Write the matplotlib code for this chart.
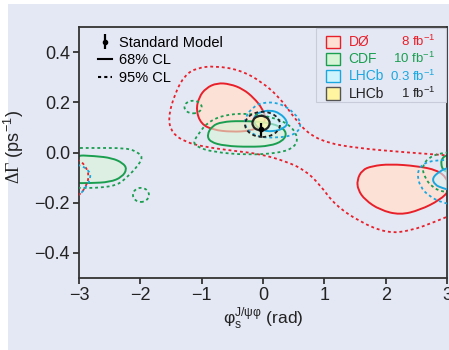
import matplotlib
matplotlib.use("Agg")
import matplotlib.pyplot as plt
from matplotlib.path import Path
from matplotlib.patches import PathPatch, Ellipse, Rectangle
from matplotlib.lines import Line2D

plt.rcParams['font.family'] = ['Liberation Sans', 'DejaVu Sans']
plt.rcParams['mathtext.fontset'] = 'custom'
plt.rcParams['mathtext.rm'] = 'Liberation Serif'
plt.rcParams['mathtext.sf'] = 'Liberation Sans'

# colours
RED, GREEN, BLUE, BLACK = '#e8202a', '#1a9e50', '#1aa7e0', '#222222'
BG = '#e4e8f4'

# ---- contour outlines (phi_s, dGamma) ----
# D0 8 fb-1, 68% CL (two islands)
d0_68a_phi = [-1.092, -1.043, -0.929, -0.750, -0.538, -0.326, -0.147, -0.016, 0.049, -0.016, -0.212, -0.505, -0.815, -1.011]
d0_68a_dg = [0.169, 0.221, 0.257, 0.277, 0.273, 0.253, 0.217, 0.177, 0.137, 0.106, 0.086, 0.082, 0.090, 0.114]
d0_68b_phi = [1.533, 1.614, 1.777, 2.071, 2.511, 2.837, 3.000, 3.049, 2.886, 2.560, 2.234, 1.908, 1.663, 1.549]
d0_68b_dg = [-0.110, -0.070, -0.054, -0.046, -0.054, -0.070, -0.102, -0.149, -0.189, -0.229, -0.249, -0.229, -0.189, -0.149]
# D0 95% CL (open at phi = +3, wraps to -3)
d0_95_phi = [3.147, 2.234, 1.533, 1.044, 0.718, 0.489, 0.277, -0.016, -0.375, -0.783, -1.076, -1.272, -1.435,
             -1.549, -1.484, -1.272, -0.946, -0.456, -0.049, 0.359, 0.685, 0.929, 1.174, 1.582, 2.022, 2.397, 2.837, 3.147]
d0_95_dg = [-0.014, 0.002, 0.018, 0.038, 0.078, 0.145, 0.217, 0.281, 0.329, 0.345, 0.337, 0.309, 0.237,
            0.137, 0.078, 0.042, 0.022, 0.006, -0.006, -0.034, -0.070, -0.129, -0.209, -0.277, -0.321, -0.313, -0.273, -0.241]
d0_95w_phi = [-3.114, -2.984, -2.886, -2.837, -2.870, -2.984, -3.114]
d0_95w_dg = [-0.018, -0.030, -0.058, -0.090, -0.129, -0.169, -0.185]

# CDF 10 fb-1, 68% CL
cdf_68a_phi = [-0.913, -0.831, -0.668, -0.375, 0.0, 0.277, 0.391, 0.326, 0.114, -0.212, -0.619, -0.864]
cdf_68a_dg = [0.070, 0.106, 0.122, 0.126, 0.122, 0.106, 0.078, 0.046, 0.026, 0.022, 0.026, 0.042]
cdf_68b_phi = [-3.114, -2.739, -2.462, -2.283, -2.217, -2.299, -2.495, -2.821, -3.114]
cdf_68b_dg = [-0.010, -0.014, -0.022, -0.042, -0.066, -0.098, -0.118, -0.122, -0.122]
cdf_68c_phi = [3.131, 3.000, 2.918, 2.902, 2.935, 3.016, 3.131]
cdf_68c_dg = [-0.006, -0.010, -0.022, -0.046, -0.070, -0.078, -0.078]
# CDF 95% CL
cdf_95a_phi = [-1.141, -1.027, -0.913, -0.652, -0.261, 0.163, 0.440, 0.571, 0.522, 0.277, -0.261, -0.815, -1.076]
cdf_95a_dg = [0.042, 0.082, 0.118, 0.149, 0.157, 0.141, 0.110, 0.062, 0.022, -0.002, -0.010, 0.002, 0.022]
cdf_95b_phi = [-3.114, -2.821, -2.217, -2.054, -1.956, -2.054, -2.217, -2.364, -2.658, -2.984, -3.114]
cdf_95b_dg = [0.018, 0.018, 0.018, 0.002, -0.018, -0.058, -0.098, -0.129, -0.141, -0.141, -0.141]
cdf_95c_phi = [3.147, 2.886, 2.690, 2.592, 2.641, 2.755, 2.918, 3.147]
cdf_95c_dg = [0.002, -0.002, -0.022, -0.058, -0.102, -0.137, -0.157, -0.161]
# small CDF 95% islands: centre phi, centre dG, width, height
cdf_95_isl = [(-1.14, 0.181, 0.28, 0.05), (-1.99, -0.169, 0.26, 0.056)]

# LHCb 0.3 fb-1
lhcb03_68a_phi = [-0.130, -0.049, 0.114, 0.277, 0.408, 0.359, 0.163, -0.049, -0.163]
lhcb03_68a_dg = [0.149, 0.161, 0.169, 0.157, 0.122, 0.098, 0.082, 0.090, 0.122]
lhcb03_68b_phi = [3.147, 3.000, 2.886, 2.755, 2.804, 2.918, 3.033, 3.147]
lhcb03_68b_dg = [-0.058, -0.062, -0.074, -0.102, -0.129, -0.141, -0.149, -0.153]
lhcb03_95a_phi = [-0.163, 0.0, 0.277, 0.522, 0.636, 0.522, 0.228, -0.098, -0.293, -0.293]
lhcb03_95a_dg = [0.181, 0.201, 0.197, 0.157, 0.110, 0.070, 0.058, 0.062, 0.098, 0.141]
lhcb03_95b_phi = [3.147, 2.804, 2.592, 2.511, 2.560, 2.723, 2.935, 3.147]
lhcb03_95b_dg = [-0.030, -0.030, -0.046, -0.082, -0.137, -0.177, -0.201, -0.209]
lhcb03_95w_phi = [-3.114, -2.984, -2.837, -2.804, -2.886, -2.984, -3.114]
lhcb03_95w_dg = [-0.042, -0.050, -0.070, -0.102, -0.137, -0.169, -0.173]

# LHCb 1 fb-1: centre phi, centre dG, width, height
lhcb1_68 = (-0.032, 0.117, 0.28, 0.058)
lhcb1_95 = (-0.008, 0.112, 0.57, 0.10)

# Standard Model prediction
sm_phi, sm_dg, sm_err = -0.036, 0.092, 0.025

# legend entries
exp_names = ['DØ', 'CDF', 'LHCb', 'LHCb']
exp_lumi = ['8', '10', '0.3', '1']
exp_edge = [RED, GREEN, BLUE, '#555555']
exp_face = ['#ffe1d4', '#d7f5d6', '#cef5fe', '#fff5a0']
exp_text = [RED, GREEN, BLUE, BLACK]


def smooth_path(xs, ys, closed=True):
    pts = list(zip(xs, ys))
    n = len(pts)
    mid = lambda a, b: ((a[0] + b[0]) / 2, (a[1] + b[1]) / 2)
    if closed:
        verts = [mid(pts[-1], pts[0])]
        codes = [Path.MOVETO]
        for i in range(n):
            verts += [pts[i], mid(pts[i], pts[(i + 1) % n])]
            codes += [Path.CURVE3, Path.CURVE3]
    else:
        verts = [pts[0]]
        codes = [Path.MOVETO]
        for i in range(1, n - 1):
            verts += [pts[i], mid(pts[i], pts[i + 1])]
            codes += [Path.CURVE3, Path.CURVE3]
        verts.append(pts[-1])
        codes.append(Path.LINETO)
    return Path(verts, codes)


DOT = (0, (1.6, 1.6))

fig = plt.figure(figsize=(4.49, 3.5), dpi=100)
fig.patch.set_facecolor('white')
fig.patches.append(Rectangle((8 / 449, 0), 1, 346 / 350, transform=fig.transFigure,
                             facecolor=BG, edgecolor='none', zorder=-10))
ax = fig.add_axes([79 / 449, 72 / 350, 368 / 449, 251 / 350])
ax.set_facecolor(BG)


def blob(xs, ys, face, edge, alpha, z):
    ax.add_patch(PathPatch(smooth_path(xs, ys), facecolor=face, edgecolor='none', alpha=alpha, zorder=z))
    ax.add_patch(PathPatch(smooth_path(xs, ys), facecolor='none', edgecolor=edge, lw=1.4, zorder=z + 0.5))


def dotted(xs, ys, edge, closed=True, z=5):
    ax.add_patch(PathPatch(smooth_path(xs, ys, closed), facecolor='none', edgecolor=edge,
                           lw=1.3, linestyle=DOT, zorder=z))


# D0
blob(d0_68a_phi, d0_68a_dg, exp_face[0], RED, 0.9, 1)
blob(d0_68b_phi, d0_68b_dg, exp_face[0], RED, 0.9, 1)
dotted(d0_95_phi, d0_95_dg, RED, closed=False)
dotted(d0_95w_phi, d0_95w_dg, RED, closed=False)
# CDF
for xs, ys in [(cdf_68a_phi, cdf_68a_dg), (cdf_68b_phi, cdf_68b_dg), (cdf_68c_phi, cdf_68c_dg)]:
    blob(xs, ys, exp_face[1], GREEN, 0.6, 2)
for xs, ys in [(cdf_95a_phi, cdf_95a_dg), (cdf_95b_phi, cdf_95b_dg), (cdf_95c_phi, cdf_95c_dg)]:
    dotted(xs, ys, GREEN)
for cx, cy, w, h in cdf_95_isl:
    ax.add_patch(Ellipse((cx, cy), w, h, facecolor='none', edgecolor=GREEN, lw=1.3, linestyle=DOT, zorder=5))
# LHCb 0.3
for xs, ys in [(lhcb03_68a_phi, lhcb03_68a_dg), (lhcb03_68b_phi, lhcb03_68b_dg)]:
    blob(xs, ys, exp_face[2], BLUE, 0.6, 3)
dotted(lhcb03_95a_phi, lhcb03_95a_dg, BLUE)
dotted(lhcb03_95b_phi, lhcb03_95b_dg, BLUE)
dotted(lhcb03_95w_phi, lhcb03_95w_dg, BLUE, closed=False)
# LHCb 1
cx, cy, w, h = lhcb1_68
ax.add_patch(Ellipse((cx, cy), w, h, facecolor=exp_face[3], alpha=0.7, edgecolor='none', zorder=4))
ax.add_patch(Ellipse((cx, cy), w, h, facecolor='none', edgecolor=BLACK, lw=1.6, zorder=6))
cx, cy, w, h = lhcb1_95
ax.add_patch(Ellipse((cx, cy), w, h, facecolor='none', edgecolor=BLACK, lw=1.3, linestyle=(0, (2, 1.6)), zorder=6))

# Standard Model
sm = ax.errorbar([sm_phi], [sm_dg], yerr=[sm_err], fmt='o', ms=3, color='black', elinewidth=1.6,
                 capsize=0, zorder=8, label='Standard Model')

ax.set_xlim(-3, 3)
ax.set_ylim(-0.5, 0.5)
ax.set_xticks([-3, -2, -1, 0, 1, 2, 3])
ax.set_xticklabels(['\u22123', '\u22122', '\u22121', '0', '1', '2', '3'])
ax.set_yticks([-0.4, -0.2, 0.0, 0.2, 0.4])
ax.set_yticklabels(['\u22120.4', '\u22120.2', '0.0', '0.2', '0.4'])
ax.tick_params(labelsize=13, length=4.5, width=1.3, color='#333333', labelcolor='#222222', pad=2)
for s in ax.spines.values():
    s.set_color('#333333')
    s.set_linewidth(1.3)

ax.set_xlabel('φ$_\\mathsf{s}^\\mathsf{J/ψφ}$ (rad)', fontsize=12.5, labelpad=1, color='#222222')
ax.set_ylabel(r'$\Delta\Gamma$ (ps$^{\mathsf{-1}}$)', fontsize=13, color='#222222')
ax.yaxis.set_label_coords(-0.145, 0.52)

# left legend
h68 = Line2D([], [], color='black', lw=1.5)
h95 = Line2D([], [], color='black', lw=1.5, linestyle=(0, (1.5, 1.5)))
ax.legend([sm, h68, h95], ['Standard Model', '68% CL', '95% CL'], loc='upper left',
          bbox_to_anchor=(0.035, 0.988), frameon=False, fontsize=10.5, handlelength=1.0,
          handletextpad=0.45, labelspacing=0.24, borderaxespad=0.0)

# right legend (drawn by hand for two aligned text columns)
ax.add_patch(Rectangle((0.645, 0.70), 0.353, 0.298, transform=ax.transAxes, facecolor=BG,
                       edgecolor='#c8ccda', lw=0.8, zorder=9))
row_y = [0.941, 0.873, 0.804, 0.735]
for i, yy in enumerate(row_y):
    ax.add_patch(Rectangle((0.670, yy - 0.024), 0.038, 0.048, transform=ax.transAxes,
                           facecolor=exp_face[i], edgecolor=exp_edge[i], lw=1.0, zorder=10))
    ax.text(0.732, yy, exp_names[i], transform=ax.transAxes, color=exp_text[i], fontsize=10,
            va='center', ha='left', zorder=10)
    ax.text(0.968, yy, exp_lumi[i] + ' fb$^{\\mathsf{-1}}$', transform=ax.transAxes, color=exp_text[i],
            fontsize=9.5, va='center', ha='right', zorder=10)

fig.savefig('out.png', dpi=100)
